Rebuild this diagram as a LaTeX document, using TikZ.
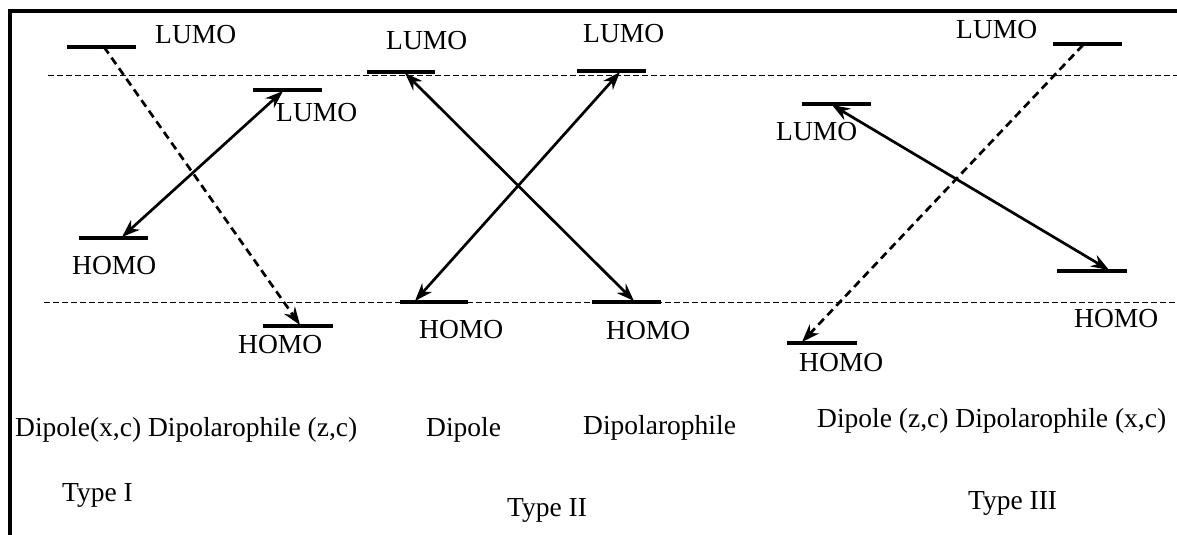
\documentclass[tikz,border=0pt]{standalone}
\usepackage{fontspec}
\setmainfont{Liberation Serif}
\usetikzlibrary{arrows.meta}
\def\topedge{(8,11) -- (1177,11)}
\def\leftedge{(10,9) -- (10,535)}
\def\upperband{(48,75.5) -- (1177,75.5)}
\def\lowerband{(44,302.5) -- (1177,302.5)}

\begin{document}
\begin{tikzpicture}[x=1pt,y=-1pt,
    orbital/.style={line width=3.4pt},
    lab/.style={inner sep=0pt,anchor=base west,font=\fontsize{27.5}{32}\selectfont},
    transfer/.style={line width=2.7pt,{Stealth[length=18pt,width=13pt]}-{Stealth[length=18pt,width=13pt]}},
    weak/.style={line width=2.7pt,dash pattern=on 8pt off 5pt,-{Stealth[length=18pt,width=13pt]}},
    band/.style={line width=1.5pt,dash pattern=on 6pt off 3pt}]
\useasboundingbox (0,0) rectangle (1177,535);

%frame on top and left
\draw [line width=4.5pt] \topedge;
\draw [line width=4.5pt] \leftedge;

%reference levels
\draw [band] \upperband;
\draw [band] \lowerband;

%Type I
\draw [orbital] (67,47) -- (136,47);
\draw [orbital] (253,90) -- (322,90);
\draw [orbital] (79,238) -- (148,238);
\draw [orbital] (263,326) -- (333,326);
\coordinate (IdL) at (104,47);
\coordinate (IpL) at (283,91);
\coordinate (IdH) at (122,237);
\coordinate (IpH) at (300,325);
\node[lab] (IdLtext) at (155,44) {LUMO};
\node[lab] (IpLtext) at (276,121) {LUMO};
\node[lab] (IdHtext) at (72,274) {HOMO};
\node[lab] (IpHtext) at (238,353) {HOMO};
\draw [weak] (IdL) -- (IpH);
\draw [transfer] (IpL) -- (IdH);

%Type II
\draw [orbital] (367,72) -- (435,72);
\draw [orbital] (577,71) -- (646,71);
\draw [orbital] (400,302) -- (468,302);
\draw [orbital] (592,302) -- (661,302);
\coordinate (IIdL) at (405,73);
\coordinate (IIpL) at (620,72);
\coordinate (IIdH) at (415,301);
\coordinate (IIpH) at (634,301);
\node[lab] (IIdLtext) at (386,50) {LUMO};
\node[lab] (IIpLtext) at (583,42) {LUMO};
\node[lab] (IIdHtext) at (419,338) {HOMO};
\node[lab] (IIpHtext) at (606,339) {HOMO};
\draw [transfer] (IIdL) -- (IIpH);
\draw [transfer] (IIpL) -- (IIdH);

%Type III
\draw [orbital] (1053,44) -- (1122,44);
\draw [orbital] (802,104) -- (871,104);
\draw [orbital] (1057,271) -- (1127,271);
\draw [orbital] (787,343) -- (857,343);
\coordinate (IIIpL) at (1083,45);
\coordinate (IIIdL) at (832,105);
\coordinate (IIIpH) at (1109,270);
\coordinate (IIIdH) at (802,342);
\node[lab] (IIIpLtext) at (956,39) {LUMO};
\node[lab] (IIIdLtext) at (776,140) {LUMO};
\node[lab] (IIIpHtext) at (1074,327) {HOMO};
\node[lab] (IIIdHtext) at (799,371) {HOMO};
\draw [weak] (IIIpL) -- (IIIdH);
\draw [transfer] (IIIdL) -- (IIIpH);

%captions
\node[lab] (capI) at (15,436) {Dipole(x,c) Dipolarophile (z,c)};
\node[lab] (capIIa) at (426,436) {Dipole};
\node[lab] (capIIb) at (583,434) {Dipolarophile};
\node[lab] (capIII) at (817,427) {Dipole (z,c) Dipolarophile (x,c)};
\node[lab] (typeI) at (62,501) {Type I};
\node[lab] (typeII) at (507,516) {Type II};
\node[lab] (typeIII) at (968,509) {Type III};
\end{tikzpicture}
\end{document}
